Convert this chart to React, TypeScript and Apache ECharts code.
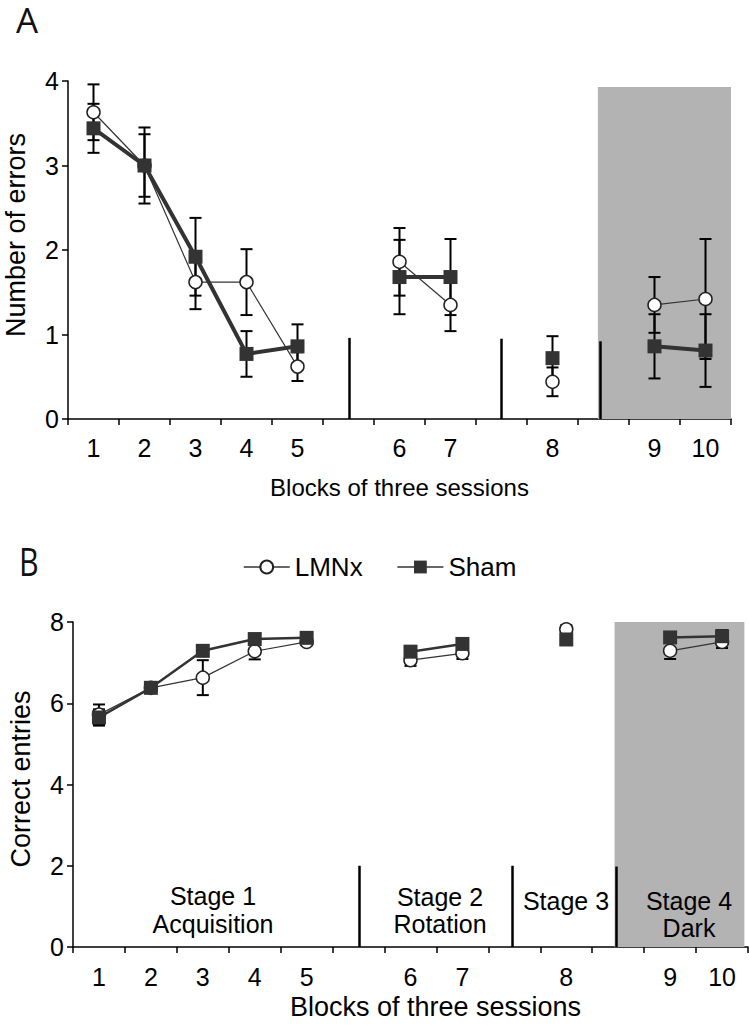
import React, { useEffect, useRef } from "react";
import * as echarts from "echarts";

// 13 slots along the x axis: 10 blocks plus three empty separator slots
const slotLabels = ["1", "2", "3", "4", "5", "", "6", "7", "", "8", "", "9", "10"];

// Panel A – number of errors
const lmnxErrors = [3.63, 3.0, 1.62, 1.62, 0.62, null, 1.86, 1.35, null, 0.44, null, 1.35, 1.42];
const lmnxErrorsSem = [0.33, 0.37, 0.32, 0.39, 0.17, null, 0.4, 0.31, null, 0.17, null, 0.33, 0.71];
const shamErrors = [3.44, 3.0, 1.92, 0.77, 0.86, null, 1.68, 1.68, null, 0.72, null, 0.86, 0.81];
const shamErrorsSem = [0.29, 0.45, 0.46, 0.27, 0.26, null, 0.44, 0.45, null, 0.26, null, 0.38, 0.43];

// Panel B – correct entries
const lmnxCorrect = [5.72, 6.38, 6.63, 7.28, 7.51, null, 7.06, 7.23, null, 7.82, null, 7.29, 7.51];
const lmnxCorrectSem = [0.25, 0.1, 0.43, 0.2, 0.08, null, 0.14, 0.14, null, 0.1, null, 0.2, 0.15];
const shamCorrect = [5.65, 6.38, 7.29, 7.58, 7.61, null, 7.27, 7.46, null, 7.57, null, 7.62, 7.65];
const shamCorrectSem = [0.2, 0.1, 0.1, 0.12, 0.1, null, 0.12, 0.12, null, 0.12, null, 0.1, 0.15];

// stage separators (in slot units) and their heights, dark-phase shading
const dividersA = [[5.51, 0.96], [8.49, 0.95], [10.43, 0.92]];
const darkA = [10.39, 13.04, 3.93];
const dividersB = [[5.52, 2.0], [8.46, 2.0], [10.46, 1.98]];
const darkB = [10.43, 12.93, 8];

const stageLabels = [
  { lines: ["Stage 1", "Acquisition"], x: 213, y: [896, 924] },
  { lines: ["Stage 2", "Rotation"], x: 440, y: [897, 924] },
  { lines: ["Stage 3"], x: 566, y: [901] },
  { lines: ["Stage 4", "Dark"], x: 689, y: [901, 928] },
];

const FONT = "Liberation Sans, Arial, sans-serif";
const DARK = "#333333";

function errData(mean: (number | null)[], sem: (number | null)[]) {
  const out: number[][] = [];
  mean.forEach((m, i) => {
    const s = sem[i];
    if (m != null && s != null) out.push([i, m - s, m + s]);
  });
  return out;
}

function errorSeries(xi: number, yi: number, data: number[][], capHalf: number, z: number) {
  return {
    type: "custom",
    xAxisIndex: xi,
    yAxisIndex: yi,
    z,
    silent: true,
    data,
    encode: { x: 0, y: [1, 2] },
    renderItem: (params: any, api: any) => {
      const x = api.value(0);
      const lo = api.coord([x, api.value(1)]);
      const hi = api.coord([x, api.value(2)]);
      const style = { stroke: "#000", lineWidth: 2, fill: null };
      return {
        type: "group",
        children: [
          { type: "line", shape: { x1: lo[0], y1: lo[1], x2: hi[0], y2: hi[1] }, style },
          { type: "line", shape: { x1: lo[0] - capHalf, y1: lo[1], x2: lo[0] + capHalf, y2: lo[1] }, style },
          { type: "line", shape: { x1: hi[0] - capHalf, y1: hi[1], x2: hi[0] + capHalf, y2: hi[1] }, style },
        ],
      };
    },
  };
}

function decoSeries(xi: number, yi: number, dividers: number[][], dark: number[]) {
  return {
    type: "line",
    xAxisIndex: xi,
    yAxisIndex: yi,
    data: [],
    silent: true,
    clip: false,
    z: 1,
    markArea: {
      silent: true,
      itemStyle: { color: "#b3b3b3" },
      data: [[{ coord: [dark[0], 0] }, { coord: [dark[1], dark[2]] }]],
    },
    markLine: {
      silent: true,
      symbol: ["none", "none"],
      label: { show: false },
      lineStyle: { color: "#000", width: 2.5, type: "solid" },
      data: dividers.map((d) => [{ coord: [d[0], 0] }, { coord: [d[0], d[1]] }]),
    },
  };
}

export default function App() {
  const ref = useRef<HTMLDivElement>(null);

  useEffect(() => {
    if (!ref.current) return;
    const chart = echarts.init(ref.current, undefined, { renderer: "svg" });

    const catAxis = (grid: number, margin: number, name: string, nameSize: number, nameGap: number, namePad: number[]) => ({
      type: "category",
      gridIndex: grid,
      data: slotLabels,
      boundaryGap: true,
      axisLine: { lineStyle: { color: "#000", width: 1.5 } },
      axisTick: { show: true, length: 6, interval: 0, lineStyle: { color: "#000", width: 1.5 } },
      axisLabel: { interval: 0, fontSize: 25, color: "#000", margin, fontFamily: FONT },
      splitLine: { show: false },
      name,
      nameLocation: "middle",
      nameGap,
      nameMoveOverlap: false,
      nameTextStyle: { fontSize: nameSize, color: "#000", fontFamily: FONT, padding: namePad },
    });

    const hiddenAxis = (grid: number) => ({
      type: "value",
      gridIndex: grid,
      min: 0,
      max: 13,
      show: false,
    });

    const valAxis = (grid: number, max: number, interval: number, name: string, pad: number) => ({
      type: "value",
      gridIndex: grid,
      min: 0,
      max,
      interval,
      axisLine: { show: true, lineStyle: { color: "#000", width: 1.5 } },
      axisTick: { show: true, length: 6, lineStyle: { color: "#000", width: 1.5 } },
      axisLabel: { fontSize: 25, color: "#000", margin: 9, fontFamily: FONT },
      splitLine: { show: false },
      name,
      nameLocation: "middle",
      nameRotate: 90,
      nameGap: 39,
      nameTextStyle: { fontSize: 27, color: "#000", fontFamily: FONT, padding: [0, 0, 0, pad] },
    });

    const lmnx = (xi: number, yi: number, data: (number | null)[]) => ({
      name: "LMNx",
      type: "line",
      xAxisIndex: xi,
      yAxisIndex: yi,
      data,
      connectNulls: false,
      z: 3,
      symbol: "circle",
      symbolSize: 13,
      itemStyle: { color: "#ffffff", borderColor: "#222", borderWidth: 1.5 },
      lineStyle: { color: DARK, width: 1.2 },
    });

    const sham = (xi: number, yi: number, data: (number | null)[], width: number) => ({
      name: "Sham",
      type: "line",
      xAxisIndex: xi,
      yAxisIndex: yi,
      data,
      connectNulls: false,
      z: 4,
      symbol: "rect",
      symbolSize: 14,
      itemStyle: { color: DARK },
      lineStyle: { color: DARK, width },
    });

    const graphics: any[] = [
      { type: "text", left: 16, top: 2, style: { text: "A", fontSize: 35, fontFamily: "Open Sans, sans-serif", fill: "#111" } },
      { type: "text", left: 19, top: 542, style: { text: "B", fontSize: 38, fontFamily: "Open Sans, sans-serif", fill: "#111" }, scaleX: 0.8 },
    ];
    stageLabels.forEach((s) => {
      s.lines.forEach((line, k) => {
        graphics.push({
          type: "text",
          x: s.x,
          y: s.y[k],
          style: {
            text: line,
            fontSize: 25,
            fontFamily: FONT,
            fill: "#000",
            align: "center",
            verticalAlign: "middle",
          },
          z: 10,
        });
      });
    });

    chart.setOption({
      animation: false,
      textStyle: { fontFamily: FONT },
      legend: {
        data: ["LMNx", "Sham"],
        left: 238,
        top: 549,
        itemWidth: 46,
        itemHeight: 16,
        itemGap: 34,
        lineStyle: { width: 1.5, color: DARK },
        textStyle: { fontSize: 26, color: "#000", fontFamily: FONT },
        selectedMode: false,
      },
      grid: [
        { left: 68, top: 81, width: 663, height: 338, outerBoundsMode: "none", containLabel: false },
        { left: 73, top: 622, width: 675, height: 325, outerBoundsMode: "none", containLabel: false },
      ],
      xAxis: [
        catAxis(0, 16, "Blocks of three sessions", 24, 56, [0, 0, 0, 0]),
        hiddenAxis(0),
        catAxis(1, 17, "Blocks of three sessions", 27, 46, [0, 0, 0, 50]),
        hiddenAxis(1),
      ],
      yAxis: [valAxis(0, 4, 1, "Number of errors", 30), valAxis(1, 8, 2, "Correct entries", 11)],
      series: [
        decoSeries(1, 0, dividersA, darkA),
        errorSeries(0, 0, errData(lmnxErrors, lmnxErrorsSem), 6, 2),
        errorSeries(0, 0, errData(shamErrors, shamErrorsSem), 6, 2),
        lmnx(0, 0, lmnxErrors),
        sham(0, 0, shamErrors, 4),
        decoSeries(3, 1, dividersB, darkB),
        errorSeries(2, 1, errData(lmnxCorrect, lmnxCorrectSem), 6, 2),
        errorSeries(2, 1, errData(shamCorrect, shamCorrectSem), 6, 2),
        lmnx(2, 1, lmnxCorrect),
        sham(2, 1, shamCorrect, 2.5),
      ],
      graphic: graphics,
    });

    return () => chart.dispose();
  }, []);

  return (
    <div
      ref={ref}
      style={{ position: "absolute", left: 0, top: 0, width: 749, height: 1026, background: "#fff" }}
    />
  );
}
